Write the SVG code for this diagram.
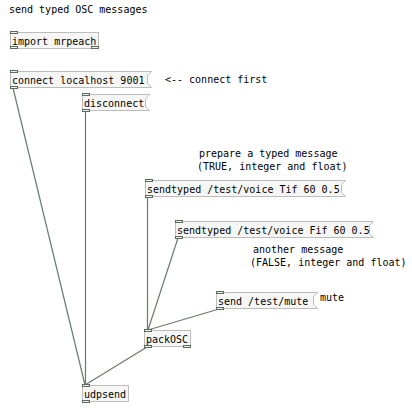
<svg xmlns="http://www.w3.org/2000/svg" width="412" height="408" viewBox="0 0 412 408">
<style>
text{font-family:"DejaVu Sans Mono","Liberation Mono",monospace;font-size:10px;fill:#000}
.box{fill:#f6f7f5;stroke:#bcbcbc;stroke-width:1}
.io{fill:#f0f0ee;stroke:#5a6b5e;stroke-width:1}
.wire{stroke:#6a7a6c;stroke-width:1.2;fill:none}
</style>
<rect width="412" height="408" fill="#ffffff"/>
<text x="9" y="13">send typed OSC messages</text>
<text x="165" y="83">&lt;-- connect first</text>
<text x="199" y="157">prepare a typed message</text>
<text x="197" y="170">(TRUE, integer and float)</text>
<text x="253" y="253">another message</text>
<text x="250" y="266">(FALSE, integer and float)</text>
<text x="320" y="301">mute</text>
<g id="connectors">
<line class="wire" x1="13" y1="88" x2="85" y2="385"/>
<line class="wire" x1="85.5" y1="110" x2="85.5" y2="385"/>
<line class="wire" x1="147.5" y1="197" x2="147.5" y2="330"/>
<line class="wire" x1="178" y1="238" x2="148" y2="330"/>
<line class="wire" x1="219" y1="309" x2="148" y2="330"/>
<line class="wire" x1="147" y1="347" x2="85" y2="385"/>
</g>
<g id="import">
<rect class="box" x="10.5" y="32.5" width="88" height="16"/>
<text x="12" y="45">import mrpeach</text>
<rect class="io" x="10.5" y="31.5" width="7" height="2"/>
<rect class="io" x="10.5" y="46.5" width="7" height="2"/>
<rect class="io" x="91.5" y="46.5" width="7" height="2"/>
</g>
<g id="connect">
<path class="box" d="M10.5 71.5H151.5L147.5 75.5V83.5L151.5 87.5H10.5Z"/>
<text x="12" y="84">connect localhost 9001</text>
<rect class="io" x="10.5" y="70.5" width="7" height="2"/>
<rect class="io" x="10.5" y="86.5" width="7" height="2"/>
</g>
<g id="disconnect">
<path class="box" d="M82.5 94.5H149.5L145.5 98.5V106.5L149.5 110.5H82.5Z"/>
<text x="84" y="107">disconnect</text>
<rect class="io" x="82.5" y="93.5" width="7" height="2"/>
<rect class="io" x="82.5" y="109.5" width="7" height="2"/>
</g>
<g id="sendtyped-tif">
<path class="box" d="M145.5 180.5H345.5L341.5 184.5V192.5L345.5 196.5H145.5Z"/>
<text x="147" y="193">sendtyped /test/voice Tif 60 0.5</text>
<rect class="io" x="145.5" y="179.5" width="7" height="2"/>
<rect class="io" x="145.5" y="195.5" width="7" height="2"/>
</g>
<g id="sendtyped-fif">
<path class="box" d="M175.5 221.5H373.5L369.5 225.5V233.5L373.5 237.5H175.5Z"/>
<text x="177" y="234">sendtyped /test/voice Fif 60 0.5</text>
<rect class="io" x="175.5" y="220.5" width="7" height="2"/>
<rect class="io" x="175.5" y="236.5" width="7" height="2"/>
</g>
<g id="send-mute">
<path class="box" d="M216.5 292.5H317.5L313.5 296.5V304.5L317.5 308.5H216.5Z"/>
<text x="218" y="305">send /test/mute</text>
<rect class="io" x="216.5" y="291.5" width="7" height="2"/>
<rect class="io" x="216.5" y="307.5" width="7" height="2"/>
</g>
<g id="packOSC">
<rect class="box" x="144.5" y="330.5" width="46" height="16"/>
<text x="146" y="343">packOSC</text>
<rect class="io" x="144.5" y="329.5" width="7" height="2"/>
<rect class="io" x="144.5" y="345.5" width="7" height="2"/>
<rect class="io" x="183.5" y="345.5" width="7" height="2"/>
</g>
<g id="udpsend">
<rect class="box" x="82.5" y="385.5" width="46" height="16"/>
<text x="84" y="398">udpsend</text>
<rect class="io" x="82.5" y="384.5" width="7" height="2"/>
<rect class="io" x="82.5" y="400.5" width="7" height="2"/>
</g>
</svg>
